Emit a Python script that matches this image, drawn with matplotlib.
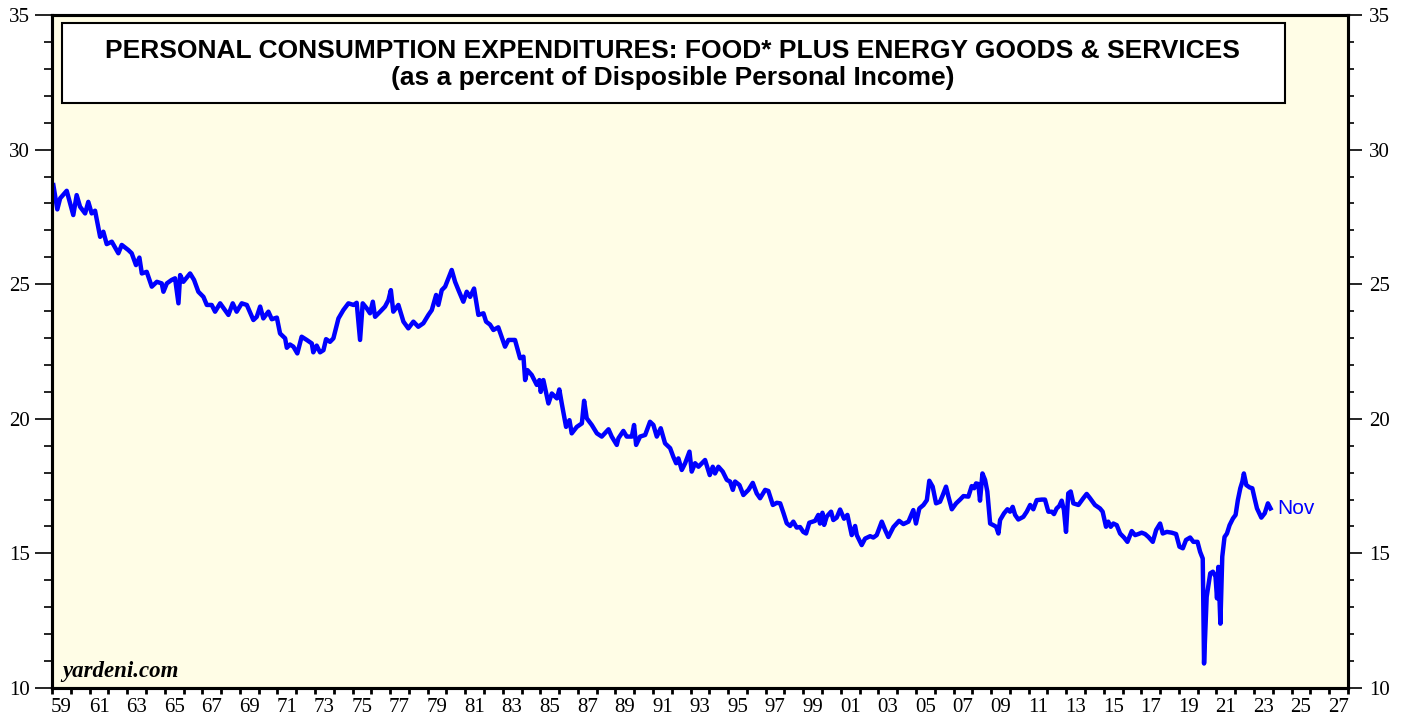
import matplotlib.pyplot as plt
import matplotlib.ticker as ticker
from matplotlib.patches import Rectangle

# decimal year, percent of disposable personal income
years = [
    1959.07, 1959.28, 1959.43, 1959.78, 1960.13, 1960.31, 1960.49, 1960.76, 1960.93, 1961.11,
    1961.29, 1961.56, 1961.73, 1961.91, 1962.18, 1962.53, 1962.71, 1963.06, 1963.24, 1963.47,
    1963.65, 1963.78, 1964.04, 1964.31, 1964.58, 1964.84, 1964.93, 1965.11, 1965.37, 1965.55,
    1965.73, 1965.82, 1965.99, 1966.35, 1966.56, 1966.79, 1967.06, 1967.24, 1967.50, 1967.68,
    1967.95, 1968.21, 1968.39, 1968.62, 1968.83, 1969.10, 1969.37, 1969.72, 1969.90, 1970.08,
    1970.25, 1970.52, 1970.70, 1970.97, 1971.14, 1971.41, 1971.50, 1971.67, 1971.85, 1972.06,
    1972.29, 1972.56, 1972.83, 1972.91, 1973.09, 1973.27, 1973.45, 1973.59, 1973.80, 1973.98,
    1974.25, 1974.51, 1974.78, 1975.05, 1975.22, 1975.40, 1975.54, 1975.76, 1975.93, 1976.08,
    1976.20, 1976.47, 1976.73, 1976.91, 1977.04, 1977.17, 1977.44, 1977.71, 1977.97, 1978.24,
    1978.50, 1978.77, 1979.04, 1979.22, 1979.45, 1979.57, 1979.75, 1979.93, 1980.28, 1980.46,
    1980.64, 1980.90, 1981.08, 1981.26, 1981.47, 1981.70, 1981.97, 1982.11, 1982.32, 1982.50,
    1982.76, 1983.12, 1983.30, 1983.65, 1983.92, 1984.10, 1984.19, 1984.31, 1984.54, 1984.81,
    1984.95, 1985.02, 1985.16, 1985.43, 1985.61, 1985.88, 1986.01, 1986.14, 1986.37, 1986.55,
    1986.67, 1986.94, 1987.21, 1987.33, 1987.47, 1987.74, 1988.01, 1988.27, 1988.63, 1988.80,
    1989.07, 1989.16, 1989.42, 1989.60, 1989.87, 1989.99, 1990.10, 1990.31, 1990.58, 1990.84,
    1991.02, 1991.20, 1991.41, 1991.64, 1991.91, 1992.08, 1992.23, 1992.35, 1992.53, 1992.71,
    1992.94, 1993.06, 1993.24, 1993.42, 1993.77, 1994.02, 1994.18, 1994.30, 1994.48, 1994.71,
    1994.93, 1995.10, 1995.25, 1995.37, 1995.60, 1995.81, 1996.08, 1996.31, 1996.52, 1996.70,
    1996.97, 1997.14, 1997.38, 1997.59, 1997.77, 1997.95, 1998.12, 1998.30, 1998.47, 1998.65,
    1998.83, 1999.00, 1999.15, 1999.32, 1999.63, 1999.80, 1999.89, 2000.02, 2000.11, 2000.25,
    2000.48, 2000.60, 2000.78, 2000.96, 2001.17, 2001.35, 2001.58, 2001.76, 2001.85, 2002.11,
    2002.29, 2002.56, 2002.73, 2002.91, 2003.18, 2003.36, 2003.53, 2003.80, 2004.10, 2004.33,
    2004.60, 2004.86, 2005.00, 2005.18, 2005.40, 2005.58, 2005.71, 2005.89, 2006.07, 2006.28,
    2006.43, 2006.60, 2006.73, 2006.91, 2007.14, 2007.35, 2007.53, 2007.79, 2007.97, 2008.10,
    2008.20, 2008.32, 2008.41, 2008.54, 2008.68, 2008.80, 2008.95, 2009.12, 2009.27, 2009.39,
    2009.48, 2009.69, 2009.87, 2010.01, 2010.15, 2010.28, 2010.45, 2010.72, 2010.90, 2011.08,
    2011.25, 2011.43, 2011.70, 2011.87, 2012.05, 2012.23, 2012.35, 2012.49, 2012.63, 2012.76,
    2012.88, 2012.99, 2013.11, 2013.24, 2013.38, 2013.65, 2013.91, 2014.09, 2014.27, 2014.53,
    2014.80, 2014.94, 2015.12, 2015.24, 2015.37, 2015.51, 2015.69, 2015.87, 2016.08, 2016.26,
    2016.49, 2016.67, 2016.84, 2017.02, 2017.20, 2017.38, 2017.61, 2017.79, 2018.00, 2018.14,
    2018.36, 2018.62, 2018.85, 2019.03, 2019.21, 2019.38, 2019.60, 2019.77, 2019.99, 2020.13,
    2020.27, 2020.34, 2020.48, 2020.67, 2020.81, 2020.95, 2021.03, 2021.10, 2021.21, 2021.31,
    2021.43, 2021.56, 2021.70, 2021.88, 2022.02, 2022.14, 2022.27, 2022.38, 2022.46, 2022.59,
    2022.77, 2022.91, 2023.03, 2023.16, 2023.39, 2023.57, 2023.74, 2023.88,
]
pce_share = [
    28.68, 27.78, 28.19, 28.47, 27.57, 28.31, 27.88, 27.63, 28.06, 27.63,
    27.73, 26.76, 26.95, 26.49, 26.58, 26.15, 26.46, 26.27, 26.15, 25.71,
    25.99, 25.40, 25.46, 24.91, 25.09, 25.03, 24.72, 25.03, 25.16, 25.22,
    24.29, 25.34, 25.09, 25.40, 25.16, 24.72, 24.53, 24.23, 24.23, 23.98,
    24.29, 24.04, 23.86, 24.29, 23.98, 24.29, 24.23, 23.67, 23.79, 24.17,
    23.73, 23.98, 23.70, 23.76, 23.17, 22.99, 22.64, 22.76, 22.68, 22.43,
    23.05, 22.93, 22.80, 22.47, 22.72, 22.47, 22.55, 22.96, 22.86, 22.99,
    23.73, 24.04, 24.29, 24.23, 24.31, 22.93, 24.29, 24.10, 23.92, 24.35,
    23.79, 23.98, 24.17, 24.41, 24.78, 23.98, 24.23, 23.61, 23.36, 23.61,
    23.42, 23.55, 23.86, 24.04, 24.60, 24.23, 24.78, 24.91, 25.53, 25.09,
    24.78, 24.35, 24.72, 24.53, 24.84, 23.86, 23.92, 23.61, 23.50, 23.30,
    23.40, 22.68, 22.93, 22.93, 22.25, 22.31, 21.44, 21.81, 21.63, 21.26,
    21.44, 21.00, 21.44, 20.57, 20.94, 20.76, 21.09, 20.57, 19.70, 19.95,
    19.46, 19.70, 19.83, 20.67, 20.02, 19.77, 19.46, 19.34, 19.61, 19.34,
    19.03, 19.28, 19.55, 19.34, 19.34, 19.77, 19.03, 19.34, 19.40, 19.89,
    19.77, 19.34, 19.65, 19.09, 18.91, 18.59, 18.35, 18.53, 18.10, 18.35,
    18.78, 18.04, 18.35, 18.22, 18.47, 17.91, 18.22, 17.97, 18.22, 18.04,
    17.73, 17.67, 17.36, 17.67, 17.54, 17.17, 17.36, 17.62, 17.23, 17.05,
    17.36, 17.32, 16.80, 16.88, 16.86, 16.49, 16.12, 16.02, 16.18, 15.96,
    15.98, 15.80, 15.74, 16.14, 16.21, 16.43, 16.11, 16.51, 16.06, 16.37,
    16.55, 16.24, 16.33, 16.63, 16.29, 16.43, 15.68, 16.02, 15.68, 15.31,
    15.55, 15.64, 15.59, 15.68, 16.18, 15.87, 15.61, 15.98, 16.21, 16.09,
    16.18, 16.61, 16.11, 16.67, 16.80, 16.98, 17.70, 17.48, 16.86, 16.92,
    17.17, 17.48, 17.11, 16.64, 16.86, 17.00, 17.13, 17.11, 17.50, 17.42,
    17.60, 17.58, 16.96, 17.97, 17.73, 17.30, 16.11, 16.05, 15.99, 15.74,
    16.24, 16.49, 16.64, 16.55, 16.73, 16.43, 16.26, 16.36, 16.55, 16.80,
    16.64, 16.98, 17.00, 17.00, 16.55, 16.55, 16.46, 16.67, 16.76, 16.96,
    16.61, 15.80, 17.23, 17.30, 16.86, 16.80, 17.05, 17.21, 17.05, 16.80,
    16.67, 16.55, 15.99, 16.18, 15.99, 16.11, 16.05, 15.74, 15.59, 15.43,
    15.83, 15.68, 15.72, 15.77, 15.72, 15.61, 15.43, 15.87, 16.11, 15.74,
    15.80, 15.77, 15.72, 15.25, 15.19, 15.50, 15.59, 15.43, 15.43, 15.06,
    14.81, 10.91, 13.39, 14.26, 14.32, 14.14, 13.33, 14.50, 12.39, 14.88,
    15.61, 15.74, 16.05, 16.30, 16.43, 16.98, 17.42, 17.67, 17.97, 17.54,
    17.45, 17.42, 17.05, 16.67, 16.33, 16.49, 16.86, 16.67,
]

year_ticks = list(range(1959, 2029))
label_years = list(range(1959, 2028, 2))
year_labels = [f'{y % 100:02d}' for y in label_years]

title1 = 'PERSONAL CONSUMPTION EXPENDITURES: FOOD* PLUS ENERGY GOODS & SERVICES'
title2 = '(as a percent of Disposible Personal Income)'

serif = 'Liberation Serif'
sans = 'Liberation Sans'

fig = plt.figure(figsize=(14.07, 7.19), dpi=100)
fig.patch.set_facecolor('white')
ax = fig.add_axes([0.037, 0.0431, 0.921, 0.936])
ax.set_facecolor('#fffde6')

ax.plot(years, pce_share, color='#0000ff', lw=3.2, solid_joinstyle='round')

ax.set_xlim(1959, 2028)
ax.set_ylim(10, 35)

# x axis: tick at each year, label in the middle of odd years
ax.xaxis.set_major_locator(ticker.FixedLocator(year_ticks))
ax.xaxis.set_major_formatter(ticker.NullFormatter())
ax.xaxis.set_minor_locator(ticker.FixedLocator([y + 0.5 for y in label_years]))
ax.xaxis.set_minor_formatter(ticker.FixedFormatter(year_labels))
ax.tick_params(axis='x', which='major', direction='out', length=4, width=2, color='black')
ax.tick_params(axis='x', which='minor', length=0, pad=7, labelsize=15)

# y axis left
ax.yaxis.set_major_locator(ticker.MultipleLocator(5))
ax.yaxis.set_minor_locator(ticker.MultipleLocator(1))
ax.tick_params(axis='y', which='major', direction='out', length=12, width=1.2, pad=4, labelsize=15)
ax.tick_params(axis='y', which='minor', direction='out', length=6, width=1.2)

# y axis right
ax2 = ax.twinx()
ax2.set_ylim(10, 35)
ax2.yaxis.set_major_locator(ticker.MultipleLocator(5))
ax2.yaxis.set_minor_locator(ticker.MultipleLocator(1))
ax2.tick_params(axis='y', which='major', direction='out', length=10, width=1.2, pad=5, labelsize=15)
ax2.tick_params(axis='y', which='minor', direction='out', length=4.5, width=1.2)

for a in (ax, ax2):
    for s in a.spines.values():
        s.set_linewidth(2.2)
    for lab in a.get_xticklabels(which='both') + a.get_yticklabels():
        lab.set_family(serif)

# title box
ax.add_patch(Rectangle((0.0077, 0.869), 0.9437, 0.119, transform=ax.transAxes,
                       facecolor='white', edgecolor='black', lw=1.5, zorder=5))
ax.text(0.479, 0.946, title1, transform=ax.transAxes, ha='center', va='center',
        fontsize=19, fontweight='bold', family=sans, zorder=6)
ax.text(0.479, 0.906, title2, transform=ax.transAxes, ha='center', va='center',
        fontsize=19, fontweight='bold', family=sans, zorder=6)

ax.text(0.0077, 0.009, 'yardeni.com', transform=ax.transAxes, ha='left', va='bottom',
        fontsize=16.5, fontweight='bold', style='italic', family=serif)

ax.annotate('Nov', xy=(years[-1], pce_share[-1]), xytext=(5, 0), textcoords='offset points',
            ha='left', va='center', color='#0000ff', fontsize=15, family=sans)

plt.savefig('out.png', dpi=100, facecolor=fig.get_facecolor())
